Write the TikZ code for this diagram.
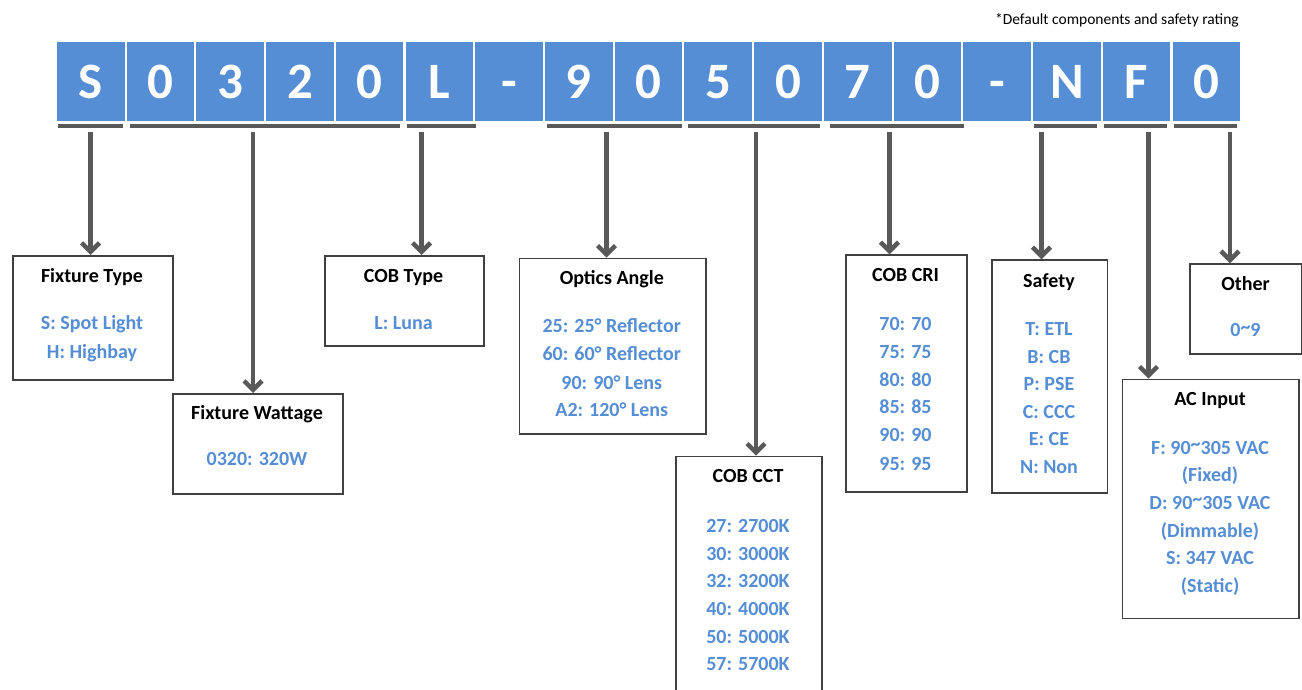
\documentclass[tikz,border=0pt]{standalone}
\usepackage{fontspec}
\setmainfont{Carlito}
\usetikzlibrary{arrows.meta}
\definecolor{cblue}{HTML}{558ED5}
\definecolor{cgray}{HTML}{595959}
\definecolor{cbord}{HTML}{404040}
\newcommand{\hitilde}{\raisebox{3.5pt}{\char`~}}
\tikzset{
  letterbox/.style={fill=cblue, draw=none, minimum width=67.6pt, minimum height=79.3pt,
    inner sep=0pt, anchor=north west, text=white, text height=34pt, text depth=0pt,
    font=\bfseries\fontsize{51}{51}\selectfont},
  barbox/.style={fill=cgray, draw=none, inner sep=0pt, minimum height=4pt, anchor=north west},
  infobox/.style={draw=cbord, line width=1.5pt, fill=white, inner sep=0pt, anchor=north west},
  ttl/.style={anchor=base, inner sep=0pt, font=\bfseries\fontsize{20}{24}\selectfont, text=black},
  itm/.style={anchor=base, inner sep=0pt, font=\bfseries\fontsize{20}{24}\selectfont, text=cblue},
  arr/.style={draw=cgray, line width=4.5pt, -{Straight Barb[length=9pt,width=18pt]}},
}
\begin{document}
\begin{tikzpicture}[x=1pt,y=-1pt]
\useasboundingbox (0,0) rectangle (1302,690);
\clip (0,0) rectangle (1302,690);
% footnote
\node[anchor=base east, inner sep=0pt, font=\fontsize{15.5}{18}\selectfont] (note) at (1239,25) {*Default components and safety rating};
% code letters
\foreach \c [count=\i from 0] in {S,0,3,2,0,L,-,9,0,5,0,7,0,-,N,F,0}
  \node[letterbox] (l\i) at ({56.8+69.72*\i},41.7) {\c};
% bars
\node[barbox, minimum width=65.4pt]  (bS) at (57.6,123.5) {};
\node[barbox, minimum width=270pt]   (bW) at (130,123.5) {};
\node[barbox, minimum width=69pt]    (bL) at (407,123.5) {};
\node[barbox, minimum width=134.5pt] (bO) at (547,123.5) {};
\node[barbox, minimum width=131.6pt] (bC) at (688,123.5) {};
\node[barbox, minimum width=134pt]   (bR) at (830,123.5) {};
\node[barbox, minimum width=63pt]    (bN) at (1033.5,123.5) {};
\node[barbox, minimum width=63pt]    (bF) at (1104,123.5) {};
\node[barbox, minimum width=63pt]    (bZ) at (1173.6,123.5) {};
% info boxes
\node[infobox, minimum width=160pt, minimum height=124pt] (ft) at (12,255) {};
\node[infobox, minimum width=170pt, minimum height=100pt] (fw) at (172,393) {};
\node[infobox, minimum width=159pt, minimum height=90pt] (cob) at (324,255) {};
\node[infobox, minimum width=186.3pt, minimum height=175.3pt] (opt) at (518.7,257.7) {};
\node[infobox, minimum width=146pt, minimum height=250pt] (cct) at (675,455.7) {};
\node[infobox, minimum width=121pt, minimum height=236.7pt] (cri) at (845,254.3) {};
\node[infobox, minimum width=115.7pt, minimum height=233pt] (saf) at (991,259.3) {};
\node[infobox, minimum width=112pt, minimum height=89.7pt] (oth) at (1189,263.3) {};
\node[infobox, minimum width=176.3pt, minimum height=239pt] (ac) at (1121.7,378.7) {};
% arrows
\coordinate (aS) at (90.5,132);
\coordinate (aW) at (253,132);
\coordinate (aL) at (421.5,132);
\coordinate (aO) at (606.5,132);
\coordinate (aC) at (756,132);
\coordinate (aR) at (889.5,132);
\coordinate (aN) at (1041.5,132);
\coordinate (aF) at (1148.5,132);
\coordinate (aZ) at (1230,132);
\draw[arr] (aS) -- (aS |- ft.north);
\draw[arr] (aW) -- (aW |- fw.north);
\draw[arr] (aL) -- (aL |- cob.north);
\draw[arr] (aO) -- (aO |- opt.north);
\draw[arr] (aC) -- (aC |- cct.north);
\draw[arr] (aR) -- (aR |- cri.north);
\draw[arr] (aN) -- (aN |- saf.north);
\draw[arr] (aF) -- (aF |- ac.north);
\draw[arr] (aZ) -- (aZ |- oth.north);
% texts: Fixture Type
\node[ttl] (ftT) at (92,282) {Fixture Type};
\node[itm] (ft1) at (92,329.5) {S: Spot Light};
\node[itm] (ft2) at (92,358) {H: Highbay};
% Fixture Wattage
\node[ttl] (fwT) at (257,419) {Fixture Wattage};
\node[itm] (fw1) at (257,465.5) {0320: 320W};
% COB Type
\node[ttl] (cobT) at (403.5,282) {COB Type};
\node[itm] (cob1) at (403.5,329) {L: Luna};
% Optics Angle
\node[ttl] (optT) at (611.8,284) {Optics Angle};
\node[itm] (opt1) at (611.8,332.5) {25: 25° Reflector};
\node[itm] (opt2) at (611.8,360) {60: 60° Reflector};
\node[itm] (opt3) at (611.8,389) {90: 90° Lens};
\node[itm] (opt4) at (611.8,416.5) {A2: 120° Lens};
% COB CCT
\node[ttl] (cctT) at (748,482) {COB CCT};
\node[itm] (cct1) at (748,532.5) {27: 2700K};
\node[itm] (cct2) at (748,560) {30: 3000K};
\node[itm] (cct3) at (748,587.5) {32: 3200K};
\node[itm] (cct4) at (748,615.5) {40: 4000K};
\node[itm] (cct5) at (748,643) {50: 5000K};
\node[itm] (cct6) at (748,670.5) {57: 5700K};
% COB CRI
\node[ttl] (criT) at (905.5,281) {COB CRI};
\node[itm] (cri1) at (905.5,330) {70: 70};
\node[itm] (cri2) at (905.5,358) {75: 75};
\node[itm] (cri3) at (905.5,386) {80: 80};
\node[itm] (cri4) at (905.5,413.5) {85: 85};
\node[itm] (cri5) at (905.5,441.5) {90: 90};
\node[itm] (cri6) at (905.5,470) {95: 95};
% Safety
\node[ttl] (safT) at (1049,287) {Safety};
\node[itm] (saf1) at (1049,335.5) {T: ETL};
\node[itm] (saf2) at (1049,363) {B: CB};
\node[itm] (saf3) at (1049,390.5) {P: PSE};
\node[itm] (saf4) at (1049,418) {C: CCC};
\node[itm] (saf5) at (1049,445.5) {E: CE};
\node[itm] (saf6) at (1049,473.5) {N: Non};
% Other
\node[ttl] (othT) at (1245.5,290) {Other};
\node[itm] (oth1) at (1245.5,336.5) {0\hitilde9};
% AC Input
\node[ttl] (acT) at (1210,405) {AC Input};
\node[itm] (ac1) at (1210,454) {F: 90\hitilde305 VAC};
\node[itm] (ac2) at (1210,481.5) {(Fixed)};
\node[itm] (ac3) at (1210,509) {D: 90\hitilde305 VAC};
\node[itm] (ac4) at (1210,537) {(Dimmable)};
\node[itm] (ac5) at (1210,564.5) {S: 347 VAC};
\node[itm] (ac6) at (1210,592.5) {(Static)};
\end{tikzpicture}
\end{document}
